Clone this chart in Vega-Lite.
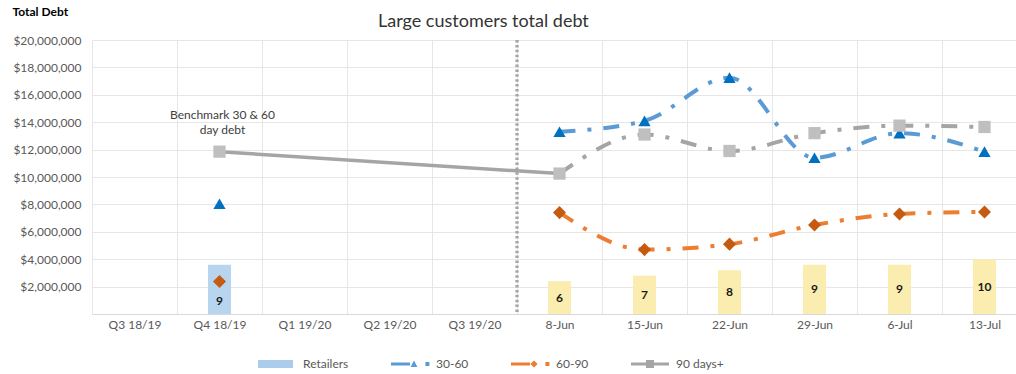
{
  "$schema": "https://vega.github.io/schema/vega-lite/v6.json",
  "width": 924,
  "height": 274,
  "autosize": {"type": "none"},
  "padding": {"left": 92, "top": 40, "right": 0, "bottom": 60},
  "background": "white",
  "config": {
    "view": {"stroke": null},
    "font": "Lato"
  },
  "title": {
    "text": "Large customers total debt",
    "anchor": "start",
    "frame": "group",
    "dx": 286,
    "offset": -40,
    "baseline": "alphabetic",
    "font": "Lato",
    "fontSize": 18,
    "fontWeight": "normal",
    "color": "#333333"
  },
  "datasets": {
    "bars": [
      {"period": "Q4 18/19", "retailers": 9},
      {"period": "8-Jun", "retailers": 6},
      {"period": "15-Jun", "retailers": 7},
      {"period": "22-Jun", "retailers": 8},
      {"period": "29-Jun", "retailers": 9},
      {"period": "6-Jul", "retailers": 9},
      {"period": "13-Jul", "retailers": 10}
    ],
    "debt": [
      {"period": "Q4 18/19", "series": "30-60", "debt": 8050000},
      {"period": "8-Jun", "series": "30-60", "debt": 13300000},
      {"period": "15-Jun", "series": "30-60", "debt": 14100000},
      {"period": "22-Jun", "series": "30-60", "debt": 17250000},
      {"period": "29-Jun", "series": "30-60", "debt": 11400000},
      {"period": "6-Jul", "series": "30-60", "debt": 13200000},
      {"period": "13-Jul", "series": "30-60", "debt": 11850000},
      {"period": "Q4 18/19", "series": "60-90", "debt": 2370000},
      {"period": "8-Jun", "series": "60-90", "debt": 7400000},
      {"period": "15-Jun", "series": "60-90", "debt": 4700000},
      {"period": "22-Jun", "series": "60-90", "debt": 5100000},
      {"period": "29-Jun", "series": "60-90", "debt": 6500000},
      {"period": "6-Jul", "series": "60-90", "debt": 7300000},
      {"period": "13-Jul", "series": "60-90", "debt": 7450000},
      {"period": "Q4 18/19", "series": "90 days+", "debt": 11850000},
      {"period": "8-Jun", "series": "90 days+", "debt": 10250000},
      {"period": "15-Jun", "series": "90 days+", "debt": 13100000},
      {"period": "22-Jun", "series": "90 days+", "debt": 11900000},
      {"period": "29-Jun", "series": "90 days+", "debt": 13200000},
      {"period": "6-Jul", "series": "90 days+", "debt": 13750000},
      {"period": "13-Jul", "series": "90 days+", "debt": 13650000}
    ]
  },
  "resolve": {"scale": {"y": "independent"}},
  "layer": [
    {
      "data": {"name": "bars"},
      "mark": {"type": "bar", "width": 23},
      "encoding": {
        "x": {
          "field": "period", "type": "nominal",
          "sort": ["Q3 18/19", "Q4 18/19", "Q1 19/20", "Q2 19/20", "Q3 19/20", "8-Jun", "15-Jun", "22-Jun", "29-Jun", "6-Jul", "13-Jul"],
          "scale": {"type": "band", "domain": ["Q3 18/19", "Q4 18/19", "Q1 19/20", "Q2 19/20", "Q3 19/20", "8-Jun", "15-Jun", "22-Jun", "29-Jun", "6-Jul", "13-Jul"], "range": [0, 935], "paddingInner": 0, "paddingOuter": 0},
          "axis": {"title": null, "grid": true, "tickBand": "extent", "ticks": false, "domainColor": "#D9D9D9", "gridColor": "#E6E6E6", "labelFont": "Lato", "labelFontSize": 12, "labelColor": "#595959", "labelPadding": 5, "labelAngle": 0}
        },
        "y": {"field": "retailers", "type": "quantitative", "scale": {"domain": [0, 50], "nice": false}, "axis": null},
        "color": {"condition": {"test": "datum.period === 'Q4 18/19'", "value": "#B7D5EE"}, "value": "#FBEDB0"}
      }
    },
    {
      "data": {"name": "bars"},
      "transform": [{"filter": "datum.period !== 'Q4 18/19'"}],
      "mark": {"type": "text", "font": "Lato", "fontSize": 12, "fontWeight": "bold", "color": "#1a1a1a", "baseline": "middle"},
      "encoding": {
        "x": {"field": "period", "type": "nominal", "sort": ["Q3 18/19", "Q4 18/19", "Q1 19/20", "Q2 19/20", "Q3 19/20", "8-Jun", "15-Jun", "22-Jun", "29-Jun", "6-Jul", "13-Jul"]},
        "y": {"field": "retailers", "type": "quantitative", "scale": {"domain": [0, 100], "nice": false}, "axis": null},
        "text": {"field": "retailers", "type": "quantitative"}
      }
    },
    {
      "data": {"name": "bars"},
      "transform": [{"filter": "datum.period === 'Q4 18/19'"}],
      "mark": {"type": "text", "font": "Lato", "fontSize": 12, "fontWeight": "bold", "color": "#1a1a1a", "baseline": "middle", "dy": 12},
      "encoding": {
        "x": {"field": "period", "type": "nominal", "sort": ["Q3 18/19", "Q4 18/19", "Q1 19/20", "Q2 19/20", "Q3 19/20", "8-Jun", "15-Jun", "22-Jun", "29-Jun", "6-Jul", "13-Jul"]},
        "y": {"field": "retailers", "type": "quantitative", "scale": {"domain": [0, 100], "nice": false}, "axis": null},
        "text": {"field": "retailers", "type": "quantitative"}
      }
    },
    {
      "data": {"name": "debt"},
      "encoding": {
        "x": {"field": "period", "type": "nominal", "sort": ["Q3 18/19", "Q4 18/19", "Q1 19/20", "Q2 19/20", "Q3 19/20", "8-Jun", "15-Jun", "22-Jun", "29-Jun", "6-Jul", "13-Jul"]},
        "y": {
          "field": "debt", "type": "quantitative",
          "scale": {"domain": [0, 20000000], "nice": false},
          "axis": {
            "title": "Total Debt", "titleAngle": 0, "titleX": -80, "titleY": -25, "titleAlign": "left", "titleBaseline": "alphabetic",
            "titleFont": "Lato", "titleFontSize": 12, "titleFontWeight": "bold", "titleColor": "#000000",
            "values": [0, 2000000, 4000000, 6000000, 8000000, 10000000, 12000000, 14000000, 16000000, 18000000, 20000000],
            "labelExpr": "datum.value == 0 ? '' : '$' + format(datum.value, ',')",
            "ticks": false, "domain": false, "grid": true, "gridColor": "#E6E6E6",
            "labelPadding": 11, "labelFont": "Lato", "labelFontSize": 12, "labelColor": "#595959"
          }
        }
      },
      "layer": [
        {
          "data": {"values": [{}]},
          "mark": {"type": "rule", "color": "#A6A6A6", "strokeWidth": 3.3, "strokeDash": [2.5, 2.4]},
          "encoding": {
            "x": {"datum": "8-Jun", "type": "nominal", "bandPosition": 0},
            "y": null
          }
        },
        {
          "transform": [{"filter": {"field": "period", "oneOf": ["8-Jun", "15-Jun", "22-Jun", "29-Jun", "6-Jul", "13-Jul"]}}],
          "mark": {"type": "line", "interpolate": "monotone", "strokeWidth": 4, "strokeDash": [16, 12, 4, 12], "strokeCap": "butt"},
          "encoding": {
            "detail": {"field": "series", "type": "nominal"},
            "color": {"condition": [{"test": "datum.series === '30-60'", "value": "#5B9BD5"}, {"test": "datum.series === '60-90'", "value": "#ED7D31"}], "value": "#A5A5A5"}
          }
        },
        {
          "transform": [{"filter": "datum.series === '90 days+' && (datum.period === 'Q4 18/19' || datum.period === '8-Jun')"}],
          "mark": {"type": "line", "color": "#A5A5A5", "strokeWidth": 3.5}
        },
        {
          "transform": [{"filter": "datum.series === '30-60'"}],
          "mark": {"type": "point", "shape": "triangle-up", "filled": true, "color": "#0070C0", "size": 150, "opacity": 1}
        },
        {
          "transform": [{"filter": "datum.series === '60-90'"}],
          "mark": {"type": "point", "shape": "diamond", "filled": true, "color": "#C55A11", "size": 170, "opacity": 1}
        },
        {
          "transform": [{"filter": "datum.series === '90 days+'"}],
          "mark": {"type": "point", "shape": "square", "filled": true, "color": "#BFBFBF", "size": 150, "opacity": 1}
        },
        {
          "transform": [{"filter": "datum.series === '90 days+' && datum.period === 'Q4 18/19'"}],
          "mark": {"type": "text", "text": ["Benchmark 30 & 60", "day debt"], "font": "Lato", "fontSize": 12, "color": "#404040", "align": "center", "baseline": "middle", "lineHeight": 15, "dx": 3},
          "encoding": {
            "y": {"datum": 14550000, "type": "quantitative"}
          }
        },
        {
          "mark": {"type": "point", "filled": true, "opacity": 0},
          "encoding": {
            "shape": {
              "field": "series", "type": "nominal",
              "scale": {
                "domain": ["Retailers", "30-60", "60-90", "90 days+"],
                "range": [
                  "M-1,-0.2H0.75V0.2H-1Z",
                  "M-1,-0.075H-0.05V0.075H-1Z M-0.02,0.15L0.15,-0.17L0.32,0.15Z M0.72,-0.1H0.92V0.1H0.72Z",
                  "M-1,-0.075H-0.05V0.075H-1Z M0.15,-0.18L0.33,0L0.15,0.18L-0.03,0Z M0.72,-0.1H0.92V0.1H0.72Z",
                  "M-1,-0.075H0.9V0.075H-1Z M-0.25,-0.2H0.15V0.2H-0.25Z"
                ]
              },
              "legend": {"title": null, "orient": "none", "legendX": 166, "legendY": 304, "direction": "horizontal", "columns": 4, "columnPadding": 42, "symbolSize": 1600, "symbolStrokeWidth": 0, "symbolOpacity": 1, "labelFont": "Lato", "labelFontSize": 12, "labelColor": "#595959", "labelOffset": 5}
            },
            "color": {
              "field": "series", "type": "nominal",
              "scale": {"domain": ["Retailers", "30-60", "60-90", "90 days+"], "range": ["#A9CDEB", "#5B9BD5", "#ED7D31", "#A5A5A5"]},
              "legend": {"title": null, "orient": "none", "legendX": 166, "legendY": 304, "direction": "horizontal", "columns": 4, "columnPadding": 42, "symbolSize": 1600, "symbolStrokeWidth": 0, "symbolOpacity": 1, "labelFont": "Lato", "labelFontSize": 12, "labelColor": "#595959", "labelOffset": 5}
            }
          }
        }
      ]
    }
  ]
}
